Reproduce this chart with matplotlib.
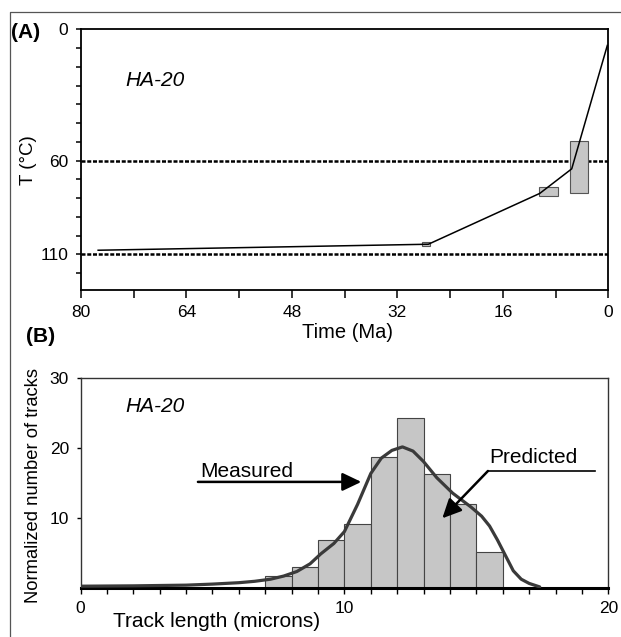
import matplotlib
matplotlib.use('Agg')
import matplotlib.pyplot as plt
import numpy as np
from matplotlib.patches import Rectangle
from matplotlib.lines import Line2D

plt.rcParams['font.family'] = ['Liberation Sans', 'DejaVu Sans']

# ---------------- Panel A: thermal history ----------------
path_time = [77.4, 27.3, 10.4, 5.55, 0.15]
path_temp = [107.8, 104.6, 77.5, 64.4, -1.4]
box_time_old = [28.3, 10.5, 5.8]
box_time_young = [27.05, 7.6, 3.05]
box_temp_low = [103.4, 74.2, 49.8]
box_temp_high = [105.7, 78.9, 77.5]
paz_limits = [60, 110]
temp_tick_pos = [-10, 60, 110]
temp_tick_labels = ['0', '60', '110']
time_label_ticks = [80, 64, 48, 32, 16, 0]

# ---------------- Panel B: track length distribution ----------------
bin_left = [7, 8, 9, 10, 11, 12, 13, 14, 15]
measured_counts = [1.8, 3.0, 6.9, 9.2, 18.7, 24.4, 16.3, 12.1, 5.2]
pred_x = [0, 2, 4, 5, 6, 6.6, 7.2, 7.7, 8.2, 8.7, 9.1, 9.6, 10.0, 10.5, 11.0, 11.4,
          11.8, 12.2, 12.6, 13.0, 13.5, 14.1, 14.8, 15.2, 15.5, 15.8, 16.1, 16.4,
          16.7, 17.0, 17.4]
pred_y = [0.3, 0.35, 0.45, 0.6, 0.8, 1.0, 1.3, 1.75, 2.4, 3.5, 4.9, 6.4, 8.1, 12.0,
          16.4, 18.6, 19.7, 20.2, 19.6, 18.1, 15.8, 13.6, 11.6, 10.3, 8.9, 6.9, 4.7,
          2.5, 1.3, 0.7, 0.2]
measured_arrow = [(4.45, 15.2), (10.64, 15.2)]
predicted_arrow = [(19.49, 16.76), (15.44, 16.76), (13.71, 10.0)]
length_label_ticks = [0, 10, 20]
count_ticks = [10, 20, 30]

W, H = 621, 637
fig = plt.figure(figsize=(W / 100, H / 100), dpi=100)
fig.patch.set_facecolor('white')

# figure frame (top and left edges only)
fig.add_artist(Line2D([10 / W, 10 / W, 1.0], [0.0, 1 - 11.7 / H, 1 - 11.7 / H],
                      transform=fig.transFigure, color='#555555', lw=0.9))

# ---------- Panel A ----------
axA = fig.add_axes([81 / W, 1 - 290 / H, (608.3 - 81) / W, (290 - 29.3) / H])
axA.set_xlim(80, 0)
axA.set_ylim(129, -10)
for t in paz_limits:
    axA.axhline(t, color='black', lw=1.8, ls=(0, (1.6, 0.7)), zorder=2)
for to, ty, lo, hi in zip(box_time_old, box_time_young, box_temp_low, box_temp_high):
    axA.add_patch(Rectangle((ty, lo), to - ty, hi - lo, facecolor='#c6c6c6',
                            edgecolor='#555555', lw=0.8, zorder=3))
axA.plot(path_time, path_temp, color='black', lw=1.1, zorder=4)

xt = np.arange(0, 81, 8)
axA.set_xticks(xt)
axA.set_xticklabels([str(v) if v in time_label_ticks else '' for v in xt])
yt = np.arange(-10, 130, 10)
axA.set_yticks(yt)
lab = dict(zip(temp_tick_pos, temp_tick_labels))
axA.set_yticklabels([lab.get(v, '') for v in yt])
axA.tick_params(axis='x', direction='out', length=5.8, width=1.1, pad=4.8, labelsize=12.5)
axA.tick_params(axis='y', direction='out', length=3.6, width=1.1, pad=5.5, labelsize=12.5)
for s in axA.spines.values():
    s.set_linewidth(1.3)
axA.set_xlabel('Time (Ma)', fontsize=14.5)
axA.xaxis.set_label_coords(0.506, -0.125)
axA.set_ylabel('T (°C)', fontsize=13.5)
axA.yaxis.set_label_coords(-0.083, 0.5)
axA.text(0.085, 0.8055, 'HA-20', transform=axA.transAxes, style='italic',
         fontsize=15, va='center', ha='left')

# ---------- Panel B ----------
axB = fig.add_axes([80.5 / W, 1 - 588.3 / H, (608.3 - 80.5) / W, 210 / H])
axB.set_xlim(0, 20)
axB.set_ylim(0, 30)
axB.bar(bin_left, measured_counts, width=1.0, align='edge', color='#c6c6c6',
        edgecolor='#444444', lw=0.8, zorder=2)
axB.plot(pred_x, pred_y, color='#3a3a3a', lw=2.3, zorder=4,
         solid_capstyle='round', solid_joinstyle='round')

(mx0, my0), (mx1, my1) = measured_arrow
axB.annotate('', xy=(mx1, my1), xytext=(mx0, my0),
             arrowprops=dict(arrowstyle='-|>,head_length=1.15,head_width=0.55',
                             color='black', lw=1.8, shrinkA=0, shrinkB=0), zorder=5)
(px0, py0), (px1, py1), (px2, py2) = predicted_arrow
axB.plot([px0, px1], [py0, py1], color='black', lw=1.2, zorder=5)
axB.annotate('', xy=(px2, py2), xytext=(px1, py1),
             arrowprops=dict(arrowstyle='-|>,head_length=1.15,head_width=0.55',
                             color='black', lw=1.8, shrinkA=0, shrinkB=0), zorder=5)
axB.text(4.52, 16.66, 'Measured', fontsize=15, va='center', ha='left')
axB.text(15.5, 18.66, 'Predicted', fontsize=15, va='center', ha='left')
axB.text(0.085, 0.865, 'HA-20', transform=axB.transAxes, style='italic',
         fontsize=15, va='center', ha='left')

xtb = np.arange(0, 21, 1)
axB.set_xticks(xtb)
axB.set_xticklabels([str(v) if v in length_label_ticks else '' for v in xtb])
axB.set_yticks(count_ticks)
axB.tick_params(axis='x', direction='out', length=4.3, width=1.0, pad=5, labelsize=12.5)
axB.tick_params(axis='y', direction='out', length=2.8, width=1.0, pad=5.5, labelsize=12.5)
for k, s in axB.spines.items():
    s.set_linewidth(1.0)
    s.set_edgecolor('#333333')
axB.spines['bottom'].set_linewidth(2.2)
axB.spines['bottom'].set_edgecolor('black')
axB.set_xlabel('Track length (microns)', fontsize=15)
axB.xaxis.set_label_coords(0.2586, -0.115)
axB.set_ylabel('Normalized number of tracks', fontsize=13.2)
axB.yaxis.set_label_coords(-0.073, 0.49)

fig.text(11 / W, 1 - 33 / H, '(A)', fontsize=15, fontweight='bold', va='center', ha='left')
fig.text(26 / W, 1 - 336.7 / H, '(B)', fontsize=15, fontweight='bold', va='center', ha='left')

fig.savefig('out.png', dpi=100, facecolor='white')
